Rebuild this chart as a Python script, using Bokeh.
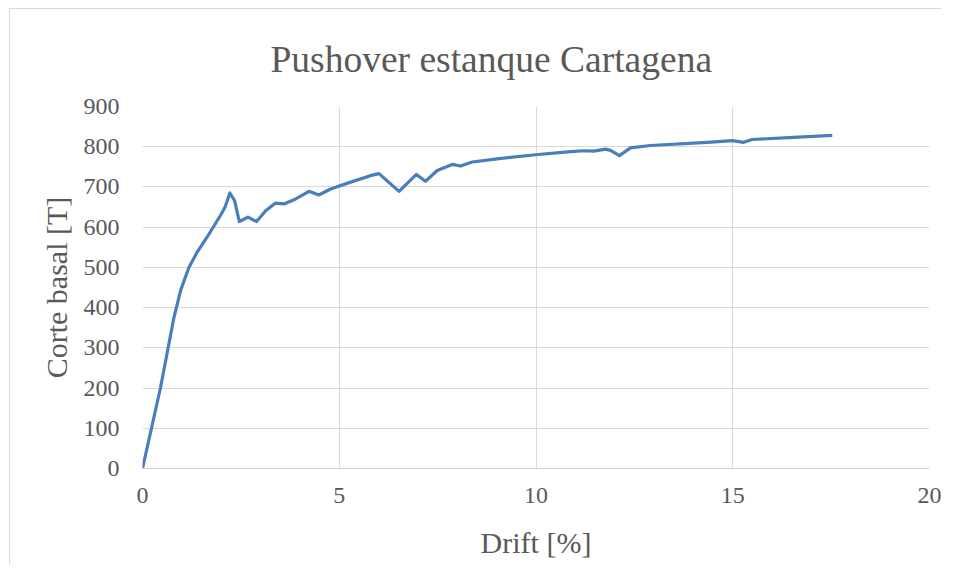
from bokeh.plotting import figure
from bokeh.embed import file_html
from bokeh.resources import INLINE
from bokeh.models import FixedTicker, Range1d

drift = [0, 0.46, 0.80, 0.97, 1.18, 1.39, 1.64, 1.98, 2.10, 2.22, 2.34, 2.46, 2.68, 2.90,
         3.13, 3.38, 3.61, 3.85, 4.23, 4.48, 4.78, 5.29, 5.79, 6.01, 6.52, 6.96, 7.19,
         7.49, 7.87, 8.08, 8.38, 9.01, 9.99, 10.88, 11.22, 11.47, 11.77, 11.89, 12.12,
         12.40, 12.91, 14.35, 14.99, 15.28, 15.49, 16.55, 17.53]
corte = [0, 202, 376, 443, 500, 538, 575, 629, 650, 685, 666, 614, 625, 614,
         641, 660, 658, 668, 689, 680, 695, 712, 728, 733, 689, 731, 714,
         741, 756, 752, 762, 770, 780, 788, 790, 789, 794, 791, 778,
         797, 803, 811, 815, 811, 818, 823, 828]

x_ticks = [0, 5, 10, 15, 20]
y_ticks = [0, 100, 200, 300, 400, 500, 600, 700, 800, 900]
title_text = "Pushover estanque Cartagena"

FONT = "Liberation Serif"
GRAY = "#595959"

p = figure(width=932, height=556, output_backend="svg", toolbar_location=None,
           x_range=Range1d(0, 20), y_range=Range1d(0, 900),
           min_border_left=132, min_border_right=13, min_border_top=97, min_border_bottom=97,
           title=title_text)
p.styles = {"border-left": "1px solid #d9d9d9", "border-top": "1px solid #d9d9d9",
            "margin-left": "9px", "margin-top": "8px"}

p.title.text_font = FONT
p.title.text_font_size = "37.5px"
p.title.text_font_style = "normal"
p.title.text_color = GRAY
p.title.align = "left"
p.title.offset = 128
p.title.standoff = 53

p.outline_line_color = None

for ax in (p.xaxis[0], p.yaxis[0]):
    ax.major_label_text_font = FONT
    ax.major_label_text_font_size = "24px"
    ax.major_label_text_color = GRAY
    ax.axis_label_text_font = FONT
    ax.axis_label_text_font_size = "30px"
    ax.axis_label_text_font_style = "normal"
    ax.axis_label_text_color = GRAY
    ax.major_tick_line_color = None
    ax.minor_tick_line_color = None

p.xaxis.ticker = FixedTicker(ticks=x_ticks)
p.yaxis.ticker = FixedTicker(ticks=y_ticks)
p.xaxis.axis_label = "Drift [%]"
p.yaxis.axis_label = "Corte basal [T]"
p.xaxis.axis_line_color = "#d0d0d0"
p.yaxis.axis_line_color = None
p.xaxis.major_label_standoff = 13
p.yaxis.major_label_standoff = 17
p.xaxis.axis_label_standoff = 20
p.yaxis.axis_label_standoff = 8

p.xgrid.grid_line_color = "#d9d9d9"
p.ygrid.grid_line_color = "#d9d9d9"
p.xgrid.ticker = FixedTicker(ticks=x_ticks)
p.ygrid.ticker = FixedTicker(ticks=y_ticks)

p.line(drift, corte, line_color="#4a7ebb", line_width=3.2, line_join="round")

open("out.html", "w").write(file_html(p, INLINE))
